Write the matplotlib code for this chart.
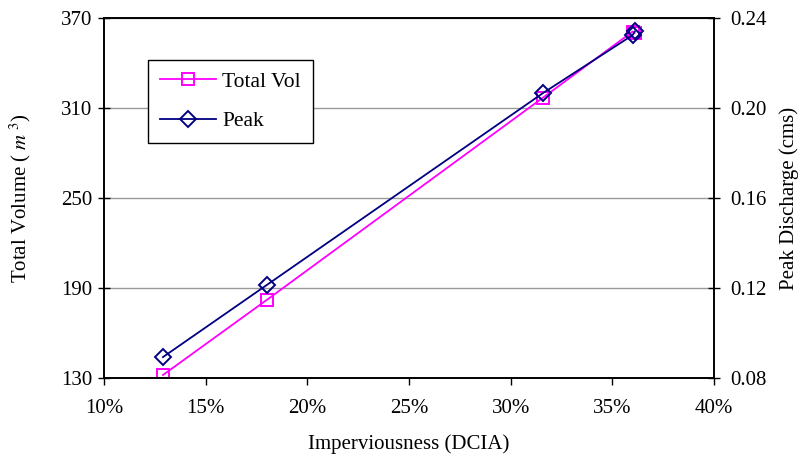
import matplotlib.pyplot as plt
import numpy as np
from matplotlib.ticker import FuncFormatter

plt.rcParams['font.family'] = ['Liberation Serif', 'DejaVu Serif']
plt.rcParams['mathtext.fontset'] = 'stix'

# data
dcia = [0.129, 0.180, 0.316, 0.360, 0.361]
total_vol = [132, 182, 317, 361, 360]
peak = [0.0893, 0.1213, 0.2067, 0.2324, 0.2340]

fig = plt.figure(figsize=(8.08, 4.59), dpi=100)
ax = fig.add_axes([104/808, 1 - 378/459, 610/808, 360/459])
ax2 = ax.twinx()

ax.set_xlim(0.10, 0.40)
ax.set_ylim(130, 370)
ax.set_yticks([130, 190, 250, 310, 370])
ax.set_xticks(np.arange(0.10, 0.401, 0.05))
ax.xaxis.set_major_formatter(FuncFormatter(lambda v, p: "%d%%" % round(v * 100)))
ax.grid(axis='y', color='#999999', linewidth=1)
ax.set_axisbelow(True)

ax2.set_ylim(0.08, 0.24)
ax2.set_yticks([0.08, 0.12, 0.16, 0.20, 0.24])
ax2.yaxis.set_major_formatter(FuncFormatter(lambda v, p: "%.2f" % v))

l1, = ax.plot(dcia, total_vol, color='#ff00ff', marker='s', markersize=9,
              markerfacecolor='none', markeredgewidth=1.4, linewidth=1.3,
              label='Total Vol')
l2, = ax2.plot(dcia, peak, color='#000080', marker='D', markersize=8,
               markerfacecolor='none', markeredgewidth=1.4, linewidth=1.3,
               label='Peak')

for a in (ax, ax2):
    for s in a.spines.values():
        s.set_linewidth(1.2)
    a.tick_params(labelsize=15, width=1, length=5)
ax.tick_params(axis='y', direction='inout', length=9, pad=4)
ax2.tick_params(axis='y', direction='inout', length=9, pad=7)
ax.tick_params(axis='x', direction='out', length=5, pad=10)

ax.set_xlabel('Imperviousness (DCIA)', fontsize=15, labelpad=12)
ax.set_ylabel('Total Volume ( $m^{\\ 3}$)', fontsize=15, labelpad=20)
ax2.set_ylabel('Peak Discharge (cms)', fontsize=15, labelpad=9)

leg = ax2.legend([l1, l2], ['Total Vol', 'Peak'], loc='upper left',
                 bbox_to_anchor=(0.072, 0.883), fontsize=15.5, frameon=True,
                 fancybox=False, edgecolor='black', framealpha=1,
                 handlelength=2.6, borderpad=0.55, labelspacing=0.9,
                 handletextpad=0.3, borderaxespad=0)
leg.get_frame().set_linewidth(1)

fig.savefig('out.png', dpi=100)
